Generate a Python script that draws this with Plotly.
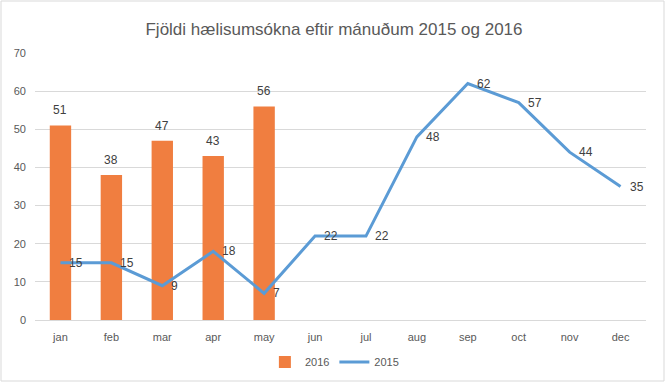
import plotly.graph_objects as go

months = ["jan", "feb", "mar", "apr", "may", "jun", "jul", "aug", "sep", "oct", "nov", "dec"]
vals_2016 = [51, 38, 47, 43, 56]
vals_2015 = [15, 15, 9, 18, 7, 22, 22, 48, 62, 57, 44, 35]
yticks = [0, 10, 20, 30, 40, 50, 60, 70]
title = "Fjöldi hælisumsókna eftir mánuðum 2015 og 2016"

FONT = "Liberation Sans, Arial"
W, H = 668, 385
L, R, T, B = 35, 22, 53, 65
pw, ph = W - L - R, H - T - B

fig = go.Figure()
fig.add_trace(go.Bar(
    x=months[:len(vals_2016)], y=vals_2016, name="2016",
    marker=dict(color="#F07E40", line=dict(width=0)), width=0.42,
))
fig.add_trace(go.Scatter(
    x=months, y=vals_2015, name="2015", mode="lines",
    line=dict(color="#5B9BD5", width=3),
))

lab_font = dict(color="#404040", size=12, family=FONT)
annotations = [
    dict(x=m, y=v, xref="x", yref="y", text=str(v), showarrow=False,
         xanchor="center", yanchor="bottom", yshift=6, font=lab_font)
    for m, v in zip(months, vals_2016)
] + [
    dict(x=m, y=v, xref="x", yref="y", text=str(v), showarrow=False,
         xanchor="left", yanchor="middle", xshift=7, font=lab_font)
    for m, v in zip(months, vals_2015)
]

fig.update_layout(
    width=W, height=H,
    margin=dict(l=L, r=R, t=T, b=B, autoexpand=False),
    paper_bgcolor="white", plot_bgcolor="white",
    font=dict(family=FONT, color="#595959"),
    title=dict(text=title, x=0.5, xanchor="center", y=1 - 29 / H, yanchor="middle",
               font=dict(size=17, color="#595959", family=FONT)),
    showlegend=True,
    legend=dict(orientation="h", x=0.49, xanchor="center", y=(320 - 362) / ph,
                yanchor="middle", font=dict(size=11, color="#595959", family=FONT),
                itemwidth=30),
    xaxis=dict(categoryorder="array", categoryarray=months, showgrid=False, showline=False,
               ticks="", tickfont=dict(size=11, color="#595959"), range=[-0.5, 11.5],
               ticklabelstandoff=9, automargin=False),
    yaxis=dict(range=[0, 70], tickvals=yticks, showgrid=True, gridcolor="#D9D9D9", gridwidth=1,
               zeroline=True, zerolinecolor="#D9D9D9", zerolinewidth=1, showline=False, ticks="",
               tickfont=dict(size=11, color="#595959"), ticklabelstandoff=8, automargin=False),
    annotations=annotations,
    shapes=[dict(type="rect", xref="paper", yref="paper",
                 x0=(1 - L) / pw, x1=(664 - L) / pw,
                 y0=(320 - 381) / ph, y1=(320 - 1) / ph,
                 line=dict(color="#D9D9D9", width=1), fillcolor="rgba(0,0,0,0)", layer="below")],
)

fig.write_html("out.html", config={"displayModeBar": False},
               post_script="document.body.style.margin='0';")
